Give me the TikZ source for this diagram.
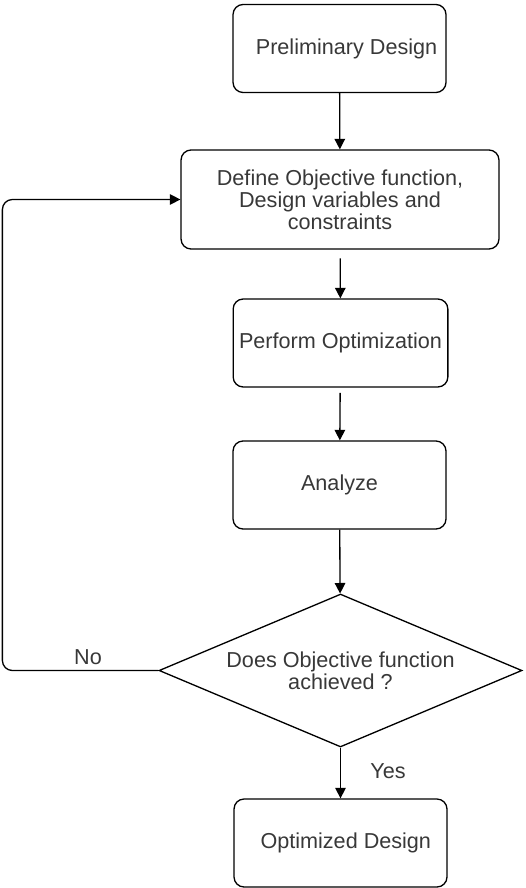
\documentclass[tikz,border=0pt]{standalone}
\usepackage{fontspec}
\setmainfont{Liberation Sans}
\usepackage{xcolor}
\usepackage{tikz}
\usetikzlibrary{arrows.meta,positioning,shapes.geometric}

\begin{document}
\begin{tikzpicture}[x=0.02cm,y=-0.02cm,
    box/.style={draw,line width=0.75pt,rounded corners=0.2cm,align=center,
        minimum width=4.26cm,minimum height=1.76cm,text=black!78,
        font=\fontsize{12.3}{11.4}\selectfont},
    decision/.style={draw,line width=0.75pt,diamond,aspect=2.37,inner sep=0pt,
        minimum width=7.26cm,minimum height=3.06cm,align=center,text=black!78,
        font=\fontsize{12.3}{11.4}\selectfont},
    lbl/.style={text=black!78,font=\fontsize{12.3}{11.4}\selectfont},
    arr/.style={-{Triangle[length=6pt,width=6pt]},line width=0.75pt}]
    \useasboundingbox (0,0) rectangle (525,888);

    % Process steps
    \node[box] (prelim) at (339.5,48.5) {\hspace*{8pt}Preliminary Design};
    \node[box,minimum width=6.36cm,minimum height=1.98cm] (define) at (340,199.5)
        {Define Objective function,\\Design variables and\\constraints};
    \node[box] (perform) at (340.5,343) {Perform Optimization};
    \node[box] (analyze) at (339.5,485) {Analyze};

    % Decision
    \node[decision] (check) at (340.5,670.5) {Does Objective function\\achieved ?};

    % Result
    \node[box] (final) at (340.5,843) {\hspace*{6pt}Optimized Design};

    % Flow
    \draw[arr] (prelim) -- (define);
    \draw[arr,shorten <=5pt] (define) -- (perform);
    \draw[arr,shorten <=3pt] (perform) -- (analyze);
    \draw[arr] (analyze) -- (check);
    \draw[arr] (check) -- (final);
    \draw[arr,rounded corners=0.2cm] (check.west) -- ++(-156,0) |- (define.west);

    % Branch labels
    \node[lbl] (no) at (88,657) {No};
    \node[lbl] (yes) at (388,771) {Yes};
\end{tikzpicture}
\end{document}
